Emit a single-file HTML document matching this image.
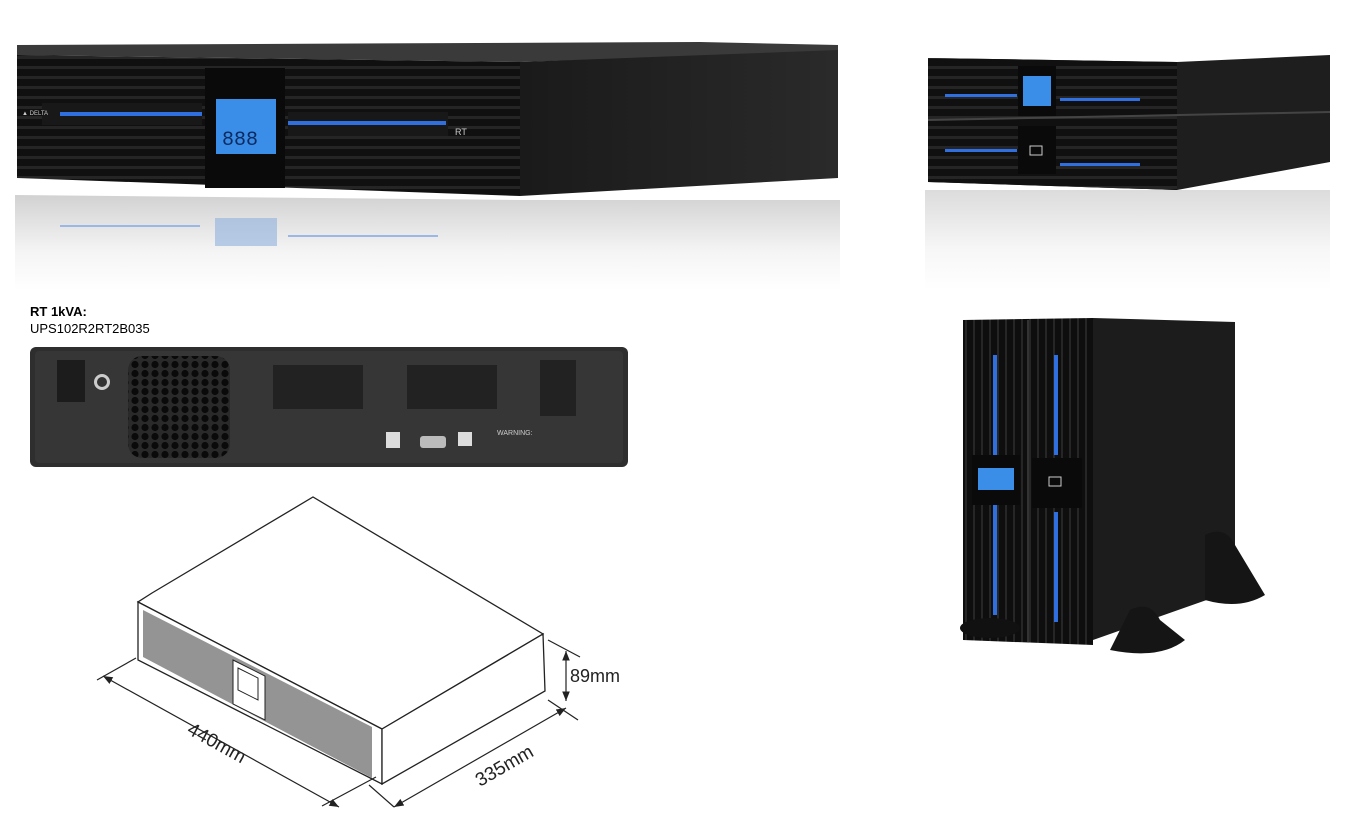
<!DOCTYPE html>
<html><head><meta charset="utf-8"><style>
body{margin:0;background:#fff;width:1346px;height:826px;overflow:hidden;font-family:"Liberation Sans",sans-serif}
</style></head><body>
<svg width="1346" height="826" viewBox="0 0 1346 826" xmlns="http://www.w3.org/2000/svg">
<defs>
<linearGradient id="refl" x1="0" y1="0" x2="0" y2="1"><stop offset="0" stop-color="#9a9a9a"/><stop offset="0.6" stop-color="#e8e8e8"/><stop offset="1" stop-color="#fff"/></linearGradient>
<linearGradient id="side" x1="0" y1="0" x2="1" y2="0"><stop offset="0" stop-color="#1a1a1a"/><stop offset="1" stop-color="#2a2a2a"/></linearGradient>
<pattern id="grill" width="6" height="10" patternUnits="userSpaceOnUse"><rect width="6" height="10" fill="#101010"/><rect y="6" width="6" height="3" fill="#252525"/></pattern>
<pattern id="vgrill" width="8" height="6" patternUnits="userSpaceOnUse"><rect width="8" height="6" fill="#0e0e0e"/><rect x="5" width="2" height="6" fill="#262626"/></pattern>
<pattern id="hex" width="10" height="9" patternUnits="userSpaceOnUse"><rect width="10" height="9" fill="#2a2a2a"/><circle cx="5" cy="4.5" r="3.6" fill="#0a0a0a"/></pattern>
<marker id="ar" viewBox="0 0 10 10" refX="10" refY="5" markerWidth="8" markerHeight="8" orient="auto-start-reverse"><path d="M0,1 L10,5 L0,9 Z" fill="#222"/></marker>
</defs>

<!-- top-left UPS -->
<polygon points="15,290 840,290 840,200 520,200 15,195" fill="url(#refl)" opacity="0.45"/>
<polygon points="17,45 700,42 838,45 838,52 520,62 17,55" fill="#3a3a3a"/>
<polygon points="520,62 838,50 838,178 520,196" fill="url(#side)"/>
<polygon points="17,55 520,62 520,196 17,178" fill="url(#grill)"/>
<rect x="205" y="68" width="80" height="120" fill="#0a0a0a"/>
<rect x="216" y="99" width="60" height="55" fill="#3a8ee8"/>
<text x="222" y="145" font-size="20" fill="#0a2a60" font-family="Liberation Mono">888</text>
<rect x="42" y="103" width="160" height="22" fill="#181818"/>
<rect x="60" y="112" width="142" height="4" fill="#2f6fe0"/>
<rect x="288" y="112" width="160" height="24" fill="#181818"/>
<rect x="288" y="121" width="158" height="4" fill="#2f6fe0"/>
<text x="455" y="135" font-size="9" fill="#ccc">RT</text>
<text x="22" y="115" font-size="6" fill="#ccc">▲ DELTA</text>
<rect x="60" y="225" width="140" height="2" fill="#9cb6e6"/>
<rect x="288" y="235" width="150" height="2" fill="#9cb6e6"/>
<rect x="215" y="218" width="62" height="28" fill="#8fb0e0" opacity="0.6"/>

<!-- top-right stacked -->
<polygon points="925,190 1330,190 1330,290 925,290" fill="url(#refl)" opacity="0.35"/>
<polygon points="928,58 1177,62 1330,55 1330,162 1177,190 928,182" fill="#1e1e1e"/>
<polygon points="928,58 1177,62 1177,190 928,182" fill="url(#grill)"/>
<line x1="928" y1="120" x2="1330" y2="112" stroke="#444" stroke-width="2"/>
<rect x="1018" y="66" width="38" height="50" fill="#0a0a0a"/>
<rect x="1023" y="76" width="28" height="30" fill="#3a8ee8"/>
<rect x="1018" y="126" width="38" height="48" fill="#0a0a0a"/>
<rect x="1030" y="146" width="12" height="9" fill="none" stroke="#ccc"/>
<rect x="945" y="94" width="72" height="3" fill="#2f6fe0"/>
<rect x="1060" y="98" width="80" height="3" fill="#2f6fe0"/>
<rect x="945" y="149" width="72" height="3" fill="#2f6fe0"/>
<rect x="1060" y="163" width="80" height="3" fill="#2f6fe0"/>

<!-- text -->
<text x="30" y="316" font-size="13" font-weight="bold" fill="#000">RT 1kVA:</text>
<text x="30" y="333" font-size="13" fill="#000">UPS102R2RT2B035</text>

<!-- rear panel -->
<rect x="30" y="347" width="598" height="120" rx="6" fill="#2e2e2e"/>
<rect x="35" y="351" width="588" height="112" rx="4" fill="#363636"/>
<rect x="57" y="360" width="28" height="42" fill="#1c1c1c"/>
<circle cx="102" cy="382" r="8" fill="#ccc"/><circle cx="102" cy="382" r="5" fill="#333"/>
<rect x="128" y="356" width="102" height="102" rx="14" fill="url(#hex)"/>
<rect x="273" y="365" width="90" height="44" fill="#222"/>
<rect x="407" y="365" width="90" height="44" fill="#222"/>
<rect x="540" y="360" width="36" height="56" fill="#222"/>
<rect x="386" y="432" width="14" height="16" fill="#ddd"/>
<rect x="420" y="436" width="26" height="12" rx="3" fill="#bbb"/>
<rect x="458" y="432" width="14" height="14" fill="#ddd"/>
<text x="497" y="435" font-size="7" fill="#ccc">WARNING:</text>

<!-- tower -->
<polygon points="1093,318 1235,322 1235,590 1093,640" fill="#1c1c1c"/>
<polygon points="963,320 1093,318 1093,645 963,640" fill="url(#vgrill)"/>
<line x1="1028" y1="320" x2="1028" y2="642" stroke="#333" stroke-width="2"/>
<rect x="993" y="355" width="4" height="100" fill="#2f6fe0"/>
<rect x="993" y="505" width="4" height="110" fill="#2f6fe0"/>
<rect x="1054" y="355" width="4" height="100" fill="#2f6fe0"/>
<rect x="1054" y="512" width="4" height="110" fill="#2f6fe0"/>
<rect x="972" y="455" width="48" height="50" fill="#0a0a0a"/>
<rect x="978" y="468" width="36" height="22" fill="#3a8ee8"/>
<rect x="1032" y="458" width="50" height="50" fill="#0a0a0a"/>
<rect x="1049" y="477" width="12" height="9" fill="none" stroke="#ccc"/>
<ellipse cx="990" cy="628" rx="30" ry="10" fill="#111"/>
<path d="M1130,610 Q1150,600 1160,620 L1185,640 Q1160,660 1110,650 Z" fill="#151515"/>
<path d="M1205,535 Q1225,525 1235,545 L1265,595 Q1240,610 1205,600 Z" fill="#151515"/>

<!-- line drawing -->
<g stroke="#222" stroke-width="1.3" fill="none">
<polygon points="152,593 313,497 543,634 382,729 138,602" fill="#fff"/>
<polygon points="138,602 382,729 382,784 138,660" fill="#fff"/>
<polygon points="382,729 543,634 545,691 382,784" fill="#fff"/>
</g>
<polygon points="143,610 372,727 372,778 143,657" fill="#666" opacity="0.7"/>
<polygon points="233,660 265,676 265,720 233,704" fill="#fff" stroke="#222"/>
<polygon points="238,668 258,678 258,700 238,690" fill="#fff" stroke="#222"/>
<g stroke="#222" stroke-width="1.2">
<line x1="97" y1="680" x2="136" y2="658"/>
<line x1="322" y1="806" x2="376" y2="777"/>
<line x1="103" y1="676" x2="339" y2="807" marker-start="url(#ar)" marker-end="url(#ar)"/>
<line x1="369" y1="785" x2="394" y2="807"/>
<line x1="548" y1="700" x2="578" y2="720"/>
<line x1="394" y1="807" x2="566" y2="708" marker-start="url(#ar)" marker-end="url(#ar)"/>
<line x1="548" y1="640" x2="580" y2="657"/>
<line x1="566" y1="651" x2="566" y2="701" marker-start="url(#ar)" marker-end="url(#ar)"/>
</g>
<text x="0" y="0" font-size="19" fill="#222" transform="translate(186,733) rotate(29)">440mm</text>
<text x="0" y="0" font-size="19" fill="#222" transform="translate(480,787) rotate(-30)">335mm</text>
<text x="570" y="682" font-size="18" fill="#222">89mm</text>
</svg>
</body></html>
